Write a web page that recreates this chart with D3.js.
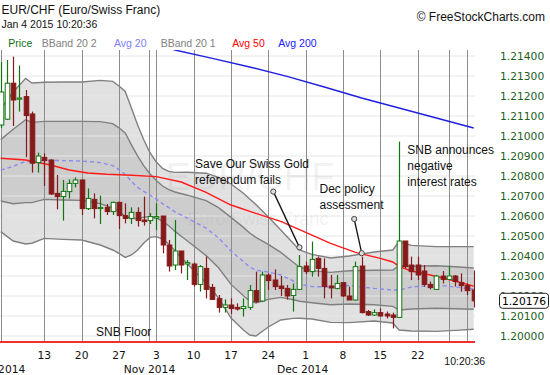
<!DOCTYPE html>
<html>
  <head>
    <meta charset="utf-8" />
    <title>EUR/CHF</title>
    <script src="https://cdnjs.cloudflare.com/ajax/libs/d3/7.8.5/d3.min.js"></script>
    <style>
      body { margin: 0; background: #fff; }
      text { font-family: "Liberation Sans", Arial, sans-serif; }
      .num { font-family: "DejaVu Sans", Verdana, sans-serif; }
    </style>
  </head>
  <body>
    <div id="chart"></div>
    <script>
      // daily bars, oldest first (Oct 2014 .. Jan 2 2015)
      const opens = [1.21055,1.21084,1.21264,1.21185,1.21197,1.2111,1.20867,1.20893,1.2088,1.20713,
        1.20697,1.20722,1.20763,1.2078,1.20637,1.20683,1.20637,1.20643,1.20622,1.20668,
        1.20602,1.20588,1.20618,1.2058,1.20577,1.2059,1.206,1.20455,1.20355,1.20425,
        1.2036,1.2036,1.20258,1.20338,1.20243,1.20187,1.20143,1.20155,1.20143,1.20137,
        1.20143,1.20227,1.20175,1.20305,1.2028,1.2025,1.20238,1.20203,1.20233,1.2035,
        1.20322,1.20388,1.20338,1.2025,1.20238,1.20267,1.202,1.2018,1.2035,1.20122,
        1.20105,1.20117,1.2011,1.20105,1.20093,1.20475,1.20355,1.20355,1.20325,1.20258,
        1.20233,1.203,1.20283,1.203,1.20267,1.20252,1.2023];
      const highs = [1.2137,1.2138,1.21397,1.21352,1.2123,1.21122,1.20917,1.20913,1.20883,1.20805,
        1.2078,1.20783,1.20793,1.20783,1.20738,1.20713,1.20702,1.2066,1.20672,1.20672,
        1.20663,1.20643,1.20643,1.20697,1.20615,1.20663,1.206,1.2048,1.2058,1.20425,
        1.2038,1.20367,1.20355,1.20397,1.2026,1.20205,1.20183,1.20188,1.20163,1.20188,
        1.20255,1.20322,1.20322,1.20313,1.20333,1.203,1.20255,1.20263,1.20405,1.20372,
        1.20472,1.20397,1.20388,1.20305,1.20305,1.20267,1.20247,1.20372,1.20397,1.2013,
        1.20133,1.20138,1.20122,1.20117,1.20972,1.20475,1.20397,1.20397,1.20355,1.20272,
        1.20305,1.20325,1.2035,1.20305,1.20313,1.20263,1.20327];
      const lows = [1.2104,1.2108,1.2105,1.21122,1.20894,1.20817,1.20817,1.2075,1.20705,1.20633,
        1.20577,1.20688,1.20743,1.20605,1.2063,1.20588,1.2056,1.20605,1.20605,1.20535,
        1.20563,1.2056,1.20547,1.20552,1.2056,1.2053,1.20413,1.20322,1.2033,1.20313,
        1.2028,1.20247,1.20222,1.20188,1.2018,1.20117,1.20117,1.2011,1.20127,1.20097,
        1.2013,1.20167,1.20172,1.2023,1.2023,1.202,1.20183,1.20122,1.2023,1.2031,
        1.20297,1.20297,1.20188,1.20188,1.20233,1.20195,1.2018,1.20177,1.20113,1.201,
        1.201,1.20097,1.20088,1.20038,1.20093,1.20338,1.2028,1.2028,1.20247,1.20233,
        1.2023,1.20263,1.2028,1.20247,1.20222,1.20205,1.20143];
      const closes = [1.2122,1.21264,1.2118,1.2119,1.21102,1.20864,1.209,1.20877,1.2071,1.20697,
        1.20723,1.20763,1.2078,1.20637,1.20688,1.20637,1.20643,1.20622,1.20668,1.20602,
        1.20588,1.20618,1.20577,1.20572,1.20597,1.20597,1.20455,1.2035,1.20425,1.20355,
        1.20367,1.20258,1.20347,1.20233,1.20183,1.20143,1.20155,1.20137,1.20135,1.20147,
        1.20227,1.20172,1.20305,1.20277,1.20247,1.20237,1.202,1.20233,1.20347,1.20322,
        1.20383,1.20338,1.20247,1.2024,1.20263,1.202,1.2018,1.20347,1.20117,1.20105,
        1.20117,1.201,1.201,1.20093,1.20475,1.20347,1.20322,1.20305,1.20258,1.20242,
        1.203,1.20283,1.203,1.20272,1.20252,1.20227,1.20176];

      // Bollinger bands 20 (2 and 1 sigma) and 20-day average, read at these bars
      const bandIdx = [0,2,4,5,7,10,13,16,18,19,20,21,22,23,24,25,26,27,28,30,33,35,37,39,40,41,43,45,47,48,50,53,56,60,63,64,66,70,73,76];
      const bbUpper2 = [1.21135,1.2122,1.21288,1.21265,1.21269,1.2127,1.2127,1.21278,1.21273,1.2125,
        1.21223,1.2114,1.21055,1.2098,1.20915,1.2087,1.20838,1.20823,1.20818,1.20819,
        1.20814,1.20793,1.2076,1.20714,1.20685,1.20658,1.20595,1.2053,1.20464,1.2043,
        1.20408,1.2039,1.204,1.2042,1.2043,1.20472,1.20453,1.20447,1.20447,1.20447];
      const bbUpper1 = [1.20982,1.21034,1.21081,1.21068,1.21073,1.21073,1.21073,1.21072,1.21062,1.21041,
        1.21015,1.20956,1.20899,1.20851,1.2081,1.20777,1.2075,1.20732,1.2072,1.20704,
        1.20677,1.20642,1.20593,1.20543,1.20515,1.20493,1.20458,1.20418,1.20369,1.20345,
        1.20327,1.20318,1.20326,1.20329,1.2033,1.20351,1.20349,1.20351,1.20346,1.2034];
      const avg20 = [1.20829,1.20848,1.20874,1.2087,1.20878,1.20877,1.20875,1.20867,1.20852,1.20832,
        1.20808,1.20773,1.20743,1.20723,1.20704,1.20684,1.20662,1.20642,1.20621,1.20589,
        1.20539,1.20491,1.20425,1.20372,1.20345,1.20329,1.2032,1.20305,1.20275,1.20259,
        1.20247,1.20245,1.20253,1.20238,1.2023,1.2023,1.20245,1.20255,1.20245,1.20234];
      const bbLower1 = [1.20675,1.20661,1.20667,1.20667,1.20683,1.2068,1.20678,1.20661,1.20641,1.20622,
        1.206,1.20589,1.20586,1.20594,1.20598,1.2059,1.20573,1.20551,1.20523,1.20475,
        1.20402,1.20341,1.20258,1.20201,1.20175,1.20165,1.20183,1.20193,1.20181,1.20174,
        1.20166,1.20156,1.2016,1.20156,1.20148,1.2013,1.20135,1.20139,1.20136,1.20134];
      const bbLower2 = [1.20522,1.20475,1.2046,1.20464,1.20488,1.20483,1.2048,1.20455,1.2043,1.20413,
        1.20393,1.20405,1.2043,1.20465,1.20493,1.20497,1.20485,1.2046,1.20425,1.2036,
        1.20265,1.2019,1.2009,1.2003,1.20005,1.2,1.20045,1.2008,1.20088,1.20089,
        1.20085,1.20068,1.20067,1.20075,1.20065,1.2003,1.20025,1.20023,1.20028,1.20034];

      const avg50Idx = [0,4,8,11,14,17,21,25,29,33,37,41,45,49,53,57,61,63,64,66,69,73,76];
      const avg50 = [1.20889,1.2088,1.20855,1.2083,1.20815,1.20809,1.20804,1.20797,1.2077,1.20718,
        1.20655,1.20613,1.20573,1.20518,1.20463,1.20418,1.20388,1.2037,1.20348,1.20325,
        1.20305,1.20275,1.20249];
      const avg200Idx = [26,28,34,40,46,52,58,64,70,76];
      const avg200 = [1.2145,1.2143,1.21388,1.21345,1.21298,1.21245,1.2119,1.2114,1.2109,1.2104];

      const priceTicks = d3.range(0, 15).map((k) => 1.2 + k * 0.001);
      const dayTicks = [[7,"13"],[13,"20"],[19,"27"],[25,"3"],[31,"10"],[37,"17"],[43,"24"],[49,"1"],[55,"8"],[61,"15"],[67,"22"]];
      const extraGrid = [0, 23.9, 72, 75];
      const monthTicks = [[0,"Oct 2014"],[23.9,"Nov 2014"],[48.5,"Dec 2014"]];
      const lastPrice = 1.20176;
      const floorDrawn = 1.1997;

      const notes = [
        { lines: ["Save Our Swiss Gold", "referendum fails"], from: [43.8, 1.20722], to: [48, 1.20443] },
        { lines: ["Dec policy", "assessment"], from: [56.8, 1.20585], to: [58, 1.20414] },
        { lines: ["SNB announces", "negative", "interest rates"] },
      ];

      const W = 550, H = 375;
      const svg = d3.select("#chart").append("svg").attr("width", W).attr("height", H);

      const x = d3.scaleLinear().domain([0, 76]).range([0.74, 473.7]);
      const y = d3.scaleLinear().domain([1.2, 1.214]).range([336, 56]);
      const plotL = 0, plotR = 475, plotT = 50, plotB = 342;

      svg.append("clipPath").attr("id", "clip")
        .append("rect").attr("x", plotL).attr("y", plotT).attr("width", plotR - plotL).attr("height", plotB - plotT);

      const plot = svg.append("g").attr("clip-path", "url(#clip)");

      // bands
      const band = bandIdx.map((i, k) => ({ i, u2: bbUpper2[k], u1: bbUpper1[k], m: avg20[k], l1: bbLower1[k], l2: bbLower2[k] }));
      const area = (a, b) => d3.area().x((d) => x(d.i)).y0((d) => y(d[a])).y1((d) => y(d[b]));
      const line = (a) => d3.line().x((d) => x(d.i)).y((d) => y(d[a]));

      plot.append("path").datum(band).attr("d", area("l2", "u2")).attr("fill", "#e1e1e1");
      plot.append("path").datum(band).attr("d", area("l1", "u1")).attr("fill", "#cdcdcd");

      // horizontal grid
      plot.selectAll(".hg").data(priceTicks).join("line")
        .attr("x1", plotL).attr("x2", plotR)
        .attr("y1", (d) => y(d)).attr("y2", (d) => y(d))
        .attr("stroke", "#e6e6e6").attr("stroke-width", 1);

      // vertical grid
      const vlines = dayTicks.map((d) => d[0]).concat(extraGrid);
      plot.selectAll(".vg").data(vlines).join("line")
        .attr("x1", (d) => Math.round(x(d)) + 0.5).attr("x2", (d) => Math.round(x(d)) + 0.5)
        .attr("y1", plotT).attr("y2", plotB)
        .attr("stroke", "#8c8c8c").attr("stroke-width", 1);

      // watermark
      svg.append("text").attr("x", 250).attr("y", 190).attr("text-anchor", "middle")
        .attr("font-size", 38).attr("fill", "#999").attr("fill-opacity", 0.13).text("EUR/CHF");
      svg.append("text").attr("x", 258).attr("y", 225).attr("text-anchor", "middle")
        .attr("font-size", 18).attr("fill", "#999").attr("fill-opacity", 0.13).text("Euro/Swiss Franc");

      ["u2", "u1", "l1", "l2"].forEach((k) => {
        plot.append("path").datum(band).attr("d", line(k))
          .attr("fill", "none").attr("stroke", "#808080").attr("stroke-width", 1.4);
      });
      plot.append("path").datum(band).attr("d", line("m"))
        .attr("fill", "none").attr("stroke", "#8c8cf0").attr("stroke-width", 1.4).attr("stroke-dasharray", "4,3");

      // moving averages
      const pts = (idx, vals) => idx.map((i, k) => ({ i, v: vals[k] }));
      const vline = d3.line().x((d) => x(d.i)).y((d) => y(d.v));
      plot.append("path").datum(pts(avg50Idx, avg50)).attr("d", vline)
        .attr("fill", "none").attr("stroke", "#ff1a1a").attr("stroke-width", 1.4);
      plot.append("path").datum(pts(avg200Idx, avg200)).attr("d", vline)
        .attr("fill", "none").attr("stroke", "#1f1fe0").attr("stroke-width", 1.4);

      // candles
      const bars = opens.map((o, i) => ({ i, o, h: highs[i], l: lows[i], c: closes[i] }));
      const red = "#861a1a", green = "#0f750f";
      const bw = 4.6;
      const cg = plot.selectAll(".c").data(bars).join("g");
      cg.append("line")
        .attr("x1", (d) => Math.round(x(d.i)) + 0.5).attr("x2", (d) => Math.round(x(d.i)) + 0.5)
        .attr("y1", (d) => y(d.h)).attr("y2", (d) => y(d.l))
        .attr("stroke", (d) => (d.c >= d.o ? green : red)).attr("stroke-width", 1.2);
      cg.append("rect")
        .attr("x", (d) => Math.round(x(d.i)) + 0.5 - bw / 2)
        .attr("y", (d) => y(Math.max(d.o, d.c)))
        .attr("width", bw)
        .attr("height", (d) => Math.max(1.2, Math.abs(y(d.o) - y(d.c))))
        .attr("fill", (d) => (d.c >= d.o ? "#fff" : red))
        .attr("stroke", (d) => (d.c >= d.o ? green : red)).attr("stroke-width", 1);

      // SNB floor
      svg.append("line").attr("x1", plotL).attr("x2", plotR)
        .attr("y1", y(floorDrawn)).attr("y2", y(floorDrawn))
        .attr("stroke", "#f03030").attr("stroke-width", 2);
      svg.append("text").attr("x", 96).attr("y", 336).attr("font-size", 12).attr("fill", "#111").text("SNB Floor");

      // annotations
      const noteX = [195, 319.5, 407.3], noteY = [168.3, 193, 154];
      notes.forEach((n, k) => {
        n.lines.forEach((t, j) => {
          svg.append("text").attr("x", noteX[k]).attr("y", noteY[k] + j * 16)
            .attr("font-size", 12).attr("fill", "#111").text(t);
        });
        if (n.from) {
          svg.append("line").attr("x1", x(n.from[0])).attr("y1", y(n.from[1]))
            .attr("x2", x(n.to[0])).attr("y2", y(n.to[1]))
            .attr("stroke", "#111").attr("stroke-width", 1.3);
          [n.from, n.to].forEach((p) => {
            svg.append("circle").attr("cx", x(p[0])).attr("cy", y(p[1])).attr("r", 2.6)
              .attr("fill", "#ddd").attr("stroke", "#444").attr("stroke-width", 1);
          });
        }
      });

      // right price axis
      svg.selectAll(".pt").data(priceTicks).join("text")
        .attr("class", "num").attr("x", 500).attr("y", (d) => y(d) + 4)
        .attr("font-size", 10.7).attr("fill", "#1d5e1d")
        .text((d) => d3.format(".5f")(d));
      const tagY = y(lastPrice);
      svg.append("rect").attr("x", 499.5).attr("y", tagY - 7.5).attr("width", 49).attr("height", 15)
        .attr("rx", 3).attr("fill", "#fff").attr("stroke", "#222").attr("stroke-width", 1);
      svg.append("text").attr("class", "num").attr("x", 524).attr("y", tagY + 4)
        .attr("text-anchor", "middle").attr("font-size", 10.7).attr("fill", "#000").text(d3.format(".5f")(lastPrice));

      // date axis
      svg.selectAll(".dt").data(dayTicks).join("text")
        .attr("class", "num").attr("x", (d) => x(d[0])).attr("y", 358.5)
        .attr("text-anchor", "middle").attr("font-size", 10.7).attr("fill", "#111").text((d) => d[1]);
      svg.selectAll(".mt").data(monthTicks).join("text")
        .attr("class", "num").attr("x", (d) => x(d[0])).attr("y", 372.5)
        .attr("text-anchor", "middle").attr("font-size", 10.7).attr("fill", "#111").text((d) => d[1]);
      svg.append("text").attr("x", 444.3).attr("y", 365).attr("font-size", 10.5).attr("fill", "#111").text("10:20:36");

      // header
      svg.append("text").attr("x", 1.5).attr("y", 13.5).attr("font-size", 12).attr("fill", "#111").text("EUR/CHF (Euro/Swiss Franc)");
      svg.append("text").attr("x", 1.5).attr("y", 28.3).attr("font-size", 10.5).attr("fill", "#111").text("Jan 4 2015 10:20:36");
      svg.append("text").attr("x", 416.7).attr("y", 20.7).attr("font-size", 12).attr("fill", "#111").text("© FreeStockCharts.com");

      const legend = [["Price", "#0f6e0f", 8.3], ["BBand 20 2", "#808080", 41.7], ["Avg 20", "#8080ff", 114],
        ["BBand 20 1", "#808080", 160.7], ["Avg 50", "#ff0000", 232.3], ["Avg 200", "#2020ff", 278.3]];
      svg.selectAll(".lg").data(legend).join("text")
        .attr("x", (d) => d[2]).attr("y", 46.7).attr("font-size", 10.5)
        .attr("fill", (d) => d[1]).text((d) => d[0]);
    </script>
  </body>
</html>
